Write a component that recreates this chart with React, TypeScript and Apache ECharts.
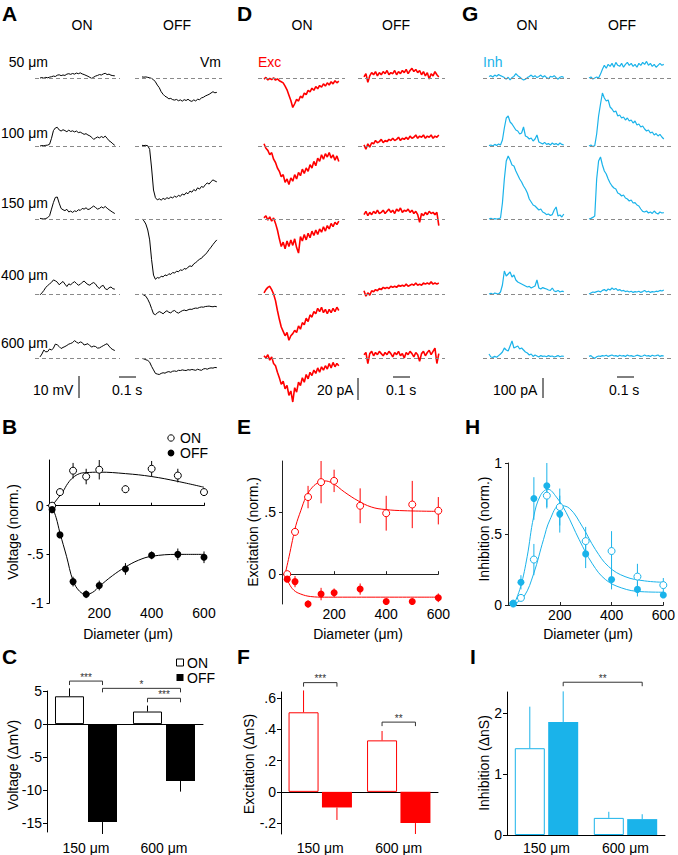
import React, { useEffect, useRef } from "react";
import * as echarts from "echarts";

const FONT = '"Liberation Sans", Arial, Helvetica, sans-serif';
const BLACK = "#000000";
const RED = "#ff0000";
const CYAN = "#1ab3ea";

// ---------------- Panels A / D / G : example traces ----------------
const diameterRows = ["50 μm", "100 μm", "150 μm", "400 μm", "600 μm"];
const traceDuration = 0.44; // s

// Vm (mV) ON / OFF
const vmOn50 = [0,0.2,-0.1,0.3,0.1,0.4,0.6,0.9,0.7,1.3,1.5,1.1,1.4,1.2,1.8,2.0,1.7,2.1,1.8,2.3,2.0,2.4,1.9,1.6,1.2,0.8,0.3,-0.2,0.4,0.9,1.2,1.6,1.4,1.9,2.2,1.6,1.8,1.3,1.1,1.0];
const vmOn100 = [0,0.2,0.1,0.3,0.4,0.8,3.5,7.0,8.2,8.5,7.3,6.8,7.4,7.0,6.5,7.2,6.6,6.9,6.4,6.8,6.1,6.3,5.8,5.3,5.6,5.0,4.6,3.9,3.0,3.6,4.1,3.7,4.3,3.8,4.5,3.5,2.4,1.8,1.0,0.3];
const vmOn150 = [0.3,0.1,0,0.2,0.6,1.5,4.5,7.5,9.8,10.0,7.2,4.8,4.2,3.8,4.4,3.2,3.6,3.0,3.7,3.4,4.2,3.9,4.8,4.5,5.1,4.3,4.6,5.3,5.9,5.2,4.5,4.8,5.5,5.0,5.7,4.9,4.2,3.6,3.0,2.5];
const vmOn400 = [-0.4,0.5,1.6,3.0,3.8,4.6,5.3,6.4,6.0,5.4,4.2,5.0,5.7,4.5,3.4,4.6,4.2,5.0,5.6,4.8,4.0,4.4,5.3,5.9,5.0,4.3,4.0,4.8,5.2,4.5,3.2,2.5,3.6,3.9,2.4,2.0,2.8,3.2,2.4,2.2];
const vmOn600 = [0.5,1.8,3.6,2.8,2.9,4.1,3.6,4.5,6.3,6.0,5.2,4.3,4.8,5.2,5.7,6.3,6.6,7.0,7.9,7.2,6.7,7.3,7.0,5.9,6.2,6.5,5.6,5.0,5.4,5.2,4.5,4.6,5.1,5.6,6.1,6.5,5.4,4.4,3.8,3.4];
const vmOff50 = [0.5,0.4,0.5,0.3,0.1,-0.2,-0.8,-1.8,-3.3,-4.5,-6.4,-7.6,-8.5,-9.0,-9.7,-9.5,-10.1,-10.3,-10.0,-10.6,-10.2,-10.8,-10.1,-10.5,-9.9,-10.6,-10.9,-10.2,-10.7,-9.9,-10.1,-9.3,-9.0,-8.4,-8.0,-7.6,-7.0,-6.4,-6.9,-6.7];
const vmOff100 = [0.3,0.2,0.3,0.1,-1.5,-10,-20,-23.5,-24.5,-24.0,-24.6,-23.8,-24.3,-23.5,-23.9,-23.2,-23.6,-22.8,-23.3,-22.4,-22.9,-21.8,-22.3,-21.2,-21.7,-20.5,-21.0,-19.8,-20.4,-19.0,-19.6,-18.4,-18.8,-17.6,-16.8,-17.3,-16.2,-15.4,-15.9,-16.3];
const vmOff150 = [0,-0.8,-2.3,-5.0,-9.5,-18.5,-25.5,-27.4,-26.6,-26.9,-26.0,-26.3,-25.4,-25.8,-24.9,-25.2,-24.3,-24.6,-23.7,-24.0,-23.1,-23.4,-22.5,-22.8,-21.9,-21.3,-21.6,-20.4,-19.8,-19.1,-18.2,-17.9,-16.8,-16.2,-15.1,-13.9,-12.8,-11.6,-10.5,-9.5];
const vmOff400 = [0,-0.5,-1.0,-2.4,-4.2,-6.6,-9.0,-9.4,-8.6,-8.0,-8.4,-9.0,-8.2,-7.6,-8.3,-8.6,-7.8,-7.5,-8.3,-8.7,-8.1,-7.6,-7.3,-7.6,-7.2,-6.9,-7.0,-6.6,-6.4,-6.5,-6.1,-5.9,-6.0,-5.7,-5.6,-5.5,-5.7,-5.8,-5.6,-5.8];
const vmOff600 = [-0.2,-0.4,-0.8,-1.1,-1.9,-3.8,-5.4,-7.0,-7.3,-7.5,-7.0,-6.7,-6.9,-6.4,-6.2,-6.5,-6.0,-5.9,-6.1,-5.6,-5.7,-5.4,-5.6,-5.7,-5.3,-5.5,-5.2,-5.4,-5.6,-5.1,-5.4,-5.6,-5.0,-4.8,-5.1,-4.7,-4.5,-4.6,-4.3,-4.4];

// Excitatory currents (pA)
const excOn50 = [-1,0.5,-1.8,-0.3,-1.5,0.2,-2,-0.8,-2.5,-3.5,-4.5,-7.5,-11,-16,-21,-27.5,-24,-20,-21.5,-17,-18.5,-14,-15.5,-11.5,-13,-9.5,-11.5,-8,-10,-7,-8.5,-5.5,-7.5,-4.5,-6.5,-3.5,-5.5,-2.5,-4.5,-3];
const excOn100 = [2,-2,-4,-8,-6,-12,-15,-20,-23,-28,-26,-33,-30,-35,-29,-32,-26,-30,-24,-27,-21,-25,-20,-23,-17,-20,-14,-18,-11,-14,-8,-12,-7,-10,-6,-11,-8,-13,-9,-14];
const excOn150 = [1,3,-1,2,-2,1,-4,-10,-18,-25,-21,-27,-20,-25,-19,-24,-18,-26,-31,-16,-20,-14,-19,-13,-17,-11,-15,-10,-14,-9,-12,-7,-11,-6,-9,-4,-7,-3,-5,-2];
const excOn400 = [1,4,6,7,4,0,-6,-15,-23,-30,-34,-38,-35,-42,-38,-36,-33,-35,-29,-32,-26,-28,-22,-25,-19,-21,-16,-18,-13,-16,-12,-17,-14,-18,-14,-17,-13,-16,-12,-15];
const excOn600 = [2,0,3,-2,1,-5,-7,-13,-18,-24,-21,-28,-25,-34,-30,-40,-27,-31,-22,-25,-18,-22,-15,-19,-13,-16,-11,-14,-9,-13,-8,-11,-7,-10,-5,-9,-4,-8,-5,-7];
const excOff50 = [1,4,-4,2,5,3,6,2,5,3,6,4,7,3,5,4,7,3,6,4,7,5,8,4,7,9,6,8,5,7,3,6,2,5,-1,4,2,6,3,1];
const excOff100 = [1,-3,2,-1,3,2,5,3,4,6,3,5,4,6,5,7,5,6,8,5,7,6,8,6,9,7,8,10,7,9,8,10,7,9,8,10,7,9,8,10];
const excOff150 = [4,7,3,6,4,7,5,8,5,6,8,5,7,9,6,8,5,9,7,10,6,8,7,9,6,8,5,7,4,-3,5,3,6,4,7,5,6,4,6,-6];
const excOff400 = [3,-2,1,-1,3,2,4,3,5,4,6,5,6,5,7,6,7,6,8,7,8,7,9,7,8,9,8,10,8,9,8,10,9,10,9,11,9,10,9,10];
const excOff600 = [3,5,-5,4,6,2,5,3,6,4,2,5,3,6,4,1,5,3,6,2,4,0,5,3,6,4,1,5,3,-3,4,6,2,5,7,3,6,9,-5,4];

// Inhibitory currents (pA)
const inhOn50 = [8,12,5,15,9,18,12,8,2,-6,4,-10,2,8,22,12,5,-4,-10,-6,2,8,15,5,12,2,8,15,4,12,2,-4,8,5,12,2,-6,4,8,2];
const inhOn100 = [2,5,0,8,3,10,5,30,90,140,150,120,110,95,80,75,60,65,95,50,45,35,40,25,35,55,20,15,10,18,8,12,5,15,8,12,5,15,8,5];
const inhOn150 = [0,3,-2,2,0,2,5,80,200,290,315,295,270,265,240,220,200,185,165,150,130,100,85,70,65,55,45,50,35,30,22,25,18,22,45,60,15,20,10,25];
const inhOn400 = [0,3,-2,5,2,0,10,45,115,90,100,110,85,95,70,60,55,50,45,40,35,38,30,35,40,70,30,25,32,28,25,20,18,30,15,12,18,10,14,12];
const inhOn600 = [20,5,3,8,4,12,20,30,50,40,35,60,85,50,55,60,45,50,40,30,25,15,20,8,15,10,5,12,8,10,6,12,8,10,5,8,12,6,10,8];
const inhOff50 = [0,5,-5,0,5,0,20,45,65,50,70,60,75,55,80,65,60,75,55,70,80,65,75,60,70,55,75,65,80,70,85,65,75,60,70,55,65,75,65,70];
const inhOff100 = [0,5,-3,2,60,150,210,265,240,225,230,195,185,170,175,150,155,140,145,130,140,125,130,115,125,105,110,95,100,85,75,80,65,70,55,62,50,58,45,35];
const inhOff150 = [0,3,8,15,200,290,310,270,240,225,200,180,165,155,150,130,125,115,120,105,100,90,95,80,82,70,65,50,38,35,40,30,35,28,40,30,25,35,30,32];
const inhOff400 = [0,5,10,8,12,15,10,18,22,15,25,20,30,22,28,18,22,15,18,12,15,10,14,8,12,10,14,8,12,18,10,14,8,12,10,14,12,18,15,20];
const inhOff600 = [8,12,3,-2,6,10,8,12,10,14,8,12,15,10,12,8,14,10,12,8,15,10,12,8,10,14,12,8,10,15,10,12,8,14,10,12,15,8,12,10];

const vmOn = [vmOn50, vmOn100, vmOn150, vmOn400, vmOn600];
const vmOff = [vmOff50, vmOff100, vmOff150, vmOff400, vmOff600];
const excOn = [excOn50, excOn100, excOn150, excOn400, excOn600];
const excOff = [excOff50, excOff100, excOff150, excOff400, excOff600];
const inhOn = [inhOn50, inhOn100, inhOn150, inhOn400, inhOn600];
const inhOff = [inhOff50, inhOff100, inhOff150, inhOff400, inhOff600];

// ---------------- Panels B / E / H : area-response curves ----------------
const diameters = [20, 50, 100, 150, 200, 300, 400, 500, 600];
const voltOn = [0.0, 0.14, 0.36, 0.30, 0.37, 0.17, 0.38, 0.31, 0.14];
const voltOnErr = [0.01, 0.04, 0.08, 0.08, 0.10, 0.04, 0.08, 0.07, 0.04];
const voltOff = [-0.04, -0.30, -0.78, -0.91, -0.82, -0.65, -0.51, -0.50, -0.53];
const voltOffErr = [0.01, 0.03, 0.05, 0.04, 0.05, 0.06, 0.04, 0.06, 0.06];
const voltOnFitD = [20, 40, 60, 80, 100, 125, 150, 200, 300, 400, 500, 600];
const voltOnFit = [0, 0.07, 0.14, 0.23, 0.29, 0.33, 0.34, 0.345, 0.33, 0.30, 0.25, 0.19];
const voltOffFitD = [20, 35, 50, 75, 100, 125, 150, 175, 200, 250, 300, 350, 400, 500, 600];
const voltOffFit = [-0.01, -0.12, -0.28, -0.52, -0.77, -0.88, -0.91, -0.89, -0.83, -0.72, -0.63, -0.56, -0.52, -0.50, -0.50];

const excNormOn = [0.0, 0.34, 0.62, 0.74, 0.75, 0.55, 0.49, 0.56, 0.51];
const excNormOnErr = [0.01, 0.03, 0.09, 0.17, 0.09, 0.14, 0.14, 0.19, 0.11];
const excNormOff = [-0.04, -0.06, -0.24, -0.16, -0.15, -0.12, -0.22, -0.22, -0.19];
const excNormOffErr = [0.01, 0.045, 0.03, 0.05, 0.035, 0.045, 0.02, 0.02, 0.035];
const excOnFitD = [12, 27, 40, 53, 72, 92, 117, 143, 163, 195, 240, 292, 343, 395, 472, 600];
const excOnFit = [0, 0.14, 0.27, 0.39, 0.51, 0.62, 0.70, 0.74, 0.75, 0.73, 0.66, 0.59, 0.54, 0.52, 0.51, 0.505];
const excOffFitD = [12, 27, 46, 72, 110, 163, 600];
const excOffFit = [0, -0.075, -0.13, -0.16, -0.18, -0.185, -0.185];

const inhNormOn = [0.01, 0.05, 0.32, 0.77, 0.69, 0.45, 0.38, 0.20, 0.14];
const inhNormOnErr = [0.005, 0.01, 0.11, 0.08, 0.13, 0.10, 0.14, 0.09, 0.05];
const inhNormOff = [0.01, 0.16, 0.75, 0.84, 0.64, 0.36, 0.18, 0.11, 0.07];
const inhNormOffErr = [0.005, 0.05, 0.15, 0.16, 0.13, 0.10, 0.07, 0.05, 0.02];
const inhOnFitD = [24, 62, 99, 137, 162, 200, 238, 288, 338, 389, 452, 527, 600];
const inhOnFit = [0.007, 0.06, 0.22, 0.46, 0.60, 0.70, 0.68, 0.55, 0.39, 0.27, 0.20, 0.17, 0.16];
const inhOffFitD = [24, 49, 74, 99, 125, 154, 187, 225, 275, 326, 376, 439, 514, 600];
const inhOffFit = [0.007, 0.13, 0.34, 0.62, 0.77, 0.815, 0.76, 0.65, 0.46, 0.29, 0.18, 0.12, 0.094, 0.09];

// ---------------- Panels C / F / I : bar summaries ----------------
const barCategories = ["150 μm", "600 μm"];
const voltBarOn = [4.2, 1.9];
const voltBarOnErr = [1.2, 0.9];
const voltBarOff = [-14.8, -8.6];
const voltBarOffErr = [1.8, 1.6];
const excBarOn = [0.51, 0.33];
const excBarOnErr = [0.14, 0.06];
const excBarOff = [-0.10, -0.20];
const excBarOffErr = [0.08, 0.07];
const inhBarOn = [1.42, 0.28];
const inhBarOnErr = [0.68, 0.10];
const inhBarOff = [1.85, 0.26];
const inhBarOffErr = [0.50, 0.08];

// significance brackets: [catA, sideA(-1 ON / +1 OFF), catB, sideB, y]
const voltBrackets = [[0, -1, 0, 1, 6.5], [0, 1, 1, 1, 5.4], [1, -1, 1, 1, 3.9]];
const voltBracketLabels = ["***", "*", "***"];
const excBrackets = [[0, -1, 0, 1, 0.70], [1, -1, 1, 1, 0.447]];
const excBracketLabels = ["***", "**"];
const inhBrackets = [[0, 1, 1, 1, 2.5]];
const inhBracketLabels = ["**"];

// ---------------- layout ----------------
const traceBaselines = [76, 146, 219, 294, 358];
const pxPerSecond = 170;
const BRACKET = "#333333";

const fmtTick = (v: number) => {
  if (v === 0) return "0";
  return String(v).replace(/^(-?)0\./, "$1.");
};

function txt(text: string, x: number, y: number, opts: any = {}) {
  const align = opts.align || "left";
  return {
    type: "text",
    x,
    y,
    rotation: opts.rotation || 0,
    z: 50,
    silent: true,
    style: {
      text,
      fill: opts.color || "#000",
      font: `${opts.weight || "normal"} ${opts.size || 14}px ${FONT}`,
      align,
      verticalAlign: "middle",
      textAlign: align,
      textVerticalAlign: "middle",
    },
  };
}

function seg(x1: number, y1: number, x2: number, y2: number, color = "#000") {
  return {
    type: "line",
    silent: true,
    z: 50,
    shape: { x1, y1, x2, y2 },
    style: { stroke: color, lineWidth: 1 },
  };
}

function buildOption() {
  const grid: any[] = [];
  const xAxis: any[] = [];
  const yAxis: any[] = [];
  const series: any[] = [];
  const graphic: any[] = [];

  const addGrid = (g: any, x: any, y: any) => {
    grid.push(g);
    const gi = grid.length - 1;
    xAxis.push({ ...x, gridIndex: gi });
    yAxis.push({ ...y, gridIndex: gi });
    return { gi, xi: xAxis.length - 1, yi: yAxis.length - 1 };
  };

  // ---------- traces ----------
  const tracePanels = [
    { on: vmOn, off: vmOff, color: BLACK, width: 1, k: 2.2, onDash: [35, 120], onStart: 40, offDash: [135, 222], offStart: 142 },
    { on: excOn, off: excOff, color: RED, width: 1.6, k: 1.1, onDash: [258, 345], onStart: 264, offDash: [358, 445], offStart: 364 },
    { on: inhOn, off: inhOff, color: CYAN, width: 1.2, k: 0.2, onDash: [483, 570], onStart: 489, offDash: [583, 671], offStart: 589 },
  ];
  const half = 80;
  tracePanels.forEach((p) => {
    [0, 1].forEach((s) => {
      const dash = s === 0 ? p.onDash : p.offDash;
      const start = s === 0 ? p.onStart : p.offStart;
      const rows = s === 0 ? p.on : p.off;
      rows.forEach((vals, r) => {
        const base = traceBaselines[r];
        const { xi, yi } = addGrid(
          { left: dash[0], top: base - half, width: dash[1] - dash[0], height: 2 * half },
          { type: "value", show: false, min: (dash[0] - start) / pxPerSecond, max: (dash[1] - start) / pxPerSecond },
          { type: "value", show: false, min: -half / p.k, max: half / p.k }
        );
        series.push({
          type: "line",
          xAxisIndex: xi,
          yAxisIndex: yi,
          data: vals.map((v, i) => [(i * traceDuration) / (vals.length - 1), v]),
          showSymbol: false,
          symbol: "none",
          clip: false,
          silent: true,
          z: 3,
          lineStyle: { color: p.color, width: p.width },
          itemStyle: { color: p.color },
          markLine: {
            silent: true,
            symbol: "none",
            label: { show: false },
            lineStyle: { color: "#8a8a8a", type: [4, 3], width: 1 },
            data: [{ yAxis: 0 }],
          },
        });
      });
    });
  });

  // ---------- area-response panels ----------
  const axisFont = { fontFamily: FONT, fontSize: 14, color: "#000" };
  const curvePanels = [
    {
      color: BLACK, left: 49.5, width: 154.5, top: 460, height: 143, xmin: 10, ymin: -1, ymax: 0.47,
      yTicks: [0, -0.5, -1], on: voltOn, onErr: voltOnErr, off: voltOff, offErr: voltOffErr,
      onFitD: voltOnFitD, onFit: voltOnFit, offFitD: voltOffFitD, offFit: voltOffFit,
    },
    {
      color: RED, left: 282, width: 156.3, top: 461, height: 143, xmin: 0, ymin: -0.24, ymax: 0.91,
      yTicks: [0.5, 0], on: excNormOn, onErr: excNormOnErr, off: excNormOff, offErr: excNormOffErr,
      onFitD: excOnFitD, onFit: excOnFit, offFitD: excOffFitD, offFit: excOffFit,
    },
    {
      color: CYAN, left: 508, width: 158, top: 463, height: 142, xmin: 0, ymin: 0, ymax: 1,
      yTicks: [1, 0.5, 0], on: inhNormOn, onErr: inhNormOnErr, off: inhNormOff, offErr: inhNormOffErr,
      onFitD: inhOnFitD, onFit: inhOnFit, offFitD: inhOffFitD, offFit: inhOffFit,
    },
  ];
  curvePanels.forEach((c) => {
    const line = { lineStyle: { color: c.color === BLACK ? "#000" : "#222", width: 1 } };
    const { xi, yi } = addGrid(
      { left: c.left, top: c.top, width: c.width, height: c.height },
      {
        type: "value", min: c.xmin, max: 600, splitLine: { show: false },
        axisLine: { show: true, onZero: true, ...line },
        axisTick: { show: true, inside: true, length: 3, customValues: [200, 400, 600], ...line },
        axisLabel: { ...axisFont, margin: 3, customValues: [200, 400, 600], formatter: fmtTick },
      },
      {
        type: "value", min: c.ymin, max: c.ymax, splitLine: { show: false },
        axisLine: { show: true, onZero: false, ...line },
        axisTick: { show: true, length: 3, customValues: c.yTicks, ...line },
        axisLabel: { ...axisFont, margin: 6, customValues: c.yTicks, formatter: fmtTick },
      }
    );
    const errSeries = (vals: number[], errs: number[]) => ({
      type: "custom",
      xAxisIndex: xi,
      yAxisIndex: yi,
      z: 3,
      silent: true,
      clip: false,
      itemStyle: { color: c.color },
      encode: { x: 0, y: 1 },
      data: diameters.map((d, i) => [d, vals[i], errs[i]]),
      renderItem: (_p: any, api: any) => {
        const a = api.coord([api.value(0), api.value(1) - api.value(2)]);
        const b = api.coord([api.value(0), api.value(1) + api.value(2)]);
        return {
          type: "line",
          shape: { x1: a[0], y1: a[1], x2: b[0], y2: b[1] },
          style: { stroke: c.color, lineWidth: 1 },
        };
      },
    });
    const fitSeries = (ds: number[], vs: number[]) => ({
      type: "line",
      xAxisIndex: xi,
      yAxisIndex: yi,
      z: 2,
      silent: true,
      smooth: 0.4,
      showSymbol: false,
      symbol: "none",
      clip: false,
      lineStyle: { color: c.color, width: 1 },
      itemStyle: { color: c.color },
      data: ds.map((d, i) => [d, vs[i]]),
    });
    series.push(fitSeries(c.onFitD, c.onFit));
    series.push(fitSeries(c.offFitD, c.offFit));
    series.push(errSeries(c.on, c.onErr));
    series.push(errSeries(c.off, c.offErr));
    series.push({
      type: "scatter", xAxisIndex: xi, yAxisIndex: yi, z: 4, silent: true, symbol: "circle", symbolSize: 7,
      itemStyle: { color: "#fff", borderColor: c.color, borderWidth: 1, opacity: 1 },
      data: diameters.map((d, i) => [d, c.on[i]]),
    });
    series.push({
      type: "scatter", xAxisIndex: xi, yAxisIndex: yi, z: 4, silent: true, symbol: "circle", symbolSize: 7,
      itemStyle: { color: c.color, opacity: 1 },
      data: diameters.map((d, i) => [d, c.off[i]]),
    });
  });

  // ---------- bar panels ----------
  const barPanels = [
    {
      color: BLACK, left: 47, width: 156, top: 691, height: 141, ymin: -16.3, ymax: 5, yTicks: [5, 0, -5, -10, -15],
      on: voltBarOn, onErr: voltBarOnErr, off: voltBarOff, offErr: voltBarOffErr, barWidth: 29, gapPx: 4,
      brackets: voltBrackets, labels: voltBracketLabels, labelMargin: 9,
    },
    {
      color: RED, left: 281, width: 157, top: 692, height: 142, ymin: -0.27, ymax: 0.64, yTicks: [0.6, 0.4, 0.2, 0, -0.2],
      on: excBarOn, onErr: excBarOnErr, off: excBarOff, offErr: excBarOffErr, barWidth: 30, gapPx: 3.4,
      brackets: excBrackets, labels: excBracketLabels, labelMargin: 7,
    },
    {
      color: CYAN, left: 507, width: 158, top: 692, height: 143, ymin: 0, ymax: 2.34, yTicks: [2, 1, 0],
      on: inhBarOn, onErr: inhBarOnErr, off: inhBarOff, offErr: inhBarOffErr, barWidth: 30, gapPx: 3.4,
      brackets: inhBrackets, labels: inhBracketLabels, labelMargin: 6,
    },
  ];
  barPanels.forEach((b) => {
    const { gi, xi, yi } = addGrid(
      { left: b.left, top: b.top, width: b.width, height: b.height },
      {
        type: "category", data: barCategories, position: "bottom",
        axisLine: { show: false, onZero: false }, axisTick: { show: false },
        axisLabel: { ...axisFont, margin: b.labelMargin },
      },
      {
        type: "value", min: b.ymin, max: b.ymax, splitLine: { show: false },
        axisLine: { show: true, lineStyle: { color: "#000", width: 1 } },
        axisTick: { show: true, length: 4, customValues: b.yTicks, lineStyle: { color: "#000" } },
        axisLabel: { ...axisFont, margin: 5, customValues: b.yTicks, formatter: fmtTick },
      }
    );
    xAxis.push({
      gridIndex: gi, type: "category", data: barCategories, position: "bottom",
      axisLine: { show: true, onZero: true, lineStyle: { color: "#000", width: 1 } },
      axisTick: { show: false }, axisLabel: { show: false },
    });
    const gapPct = `${((b.gapPx / b.barWidth) * 100).toFixed(1)}%`;
    series.push({
      type: "bar", xAxisIndex: xi, yAxisIndex: yi, barWidth: b.barWidth, barGap: gapPct, z: 2, silent: true,
      itemStyle: { color: "#fff", borderColor: b.color, borderWidth: 1 },
      data: b.on,
    });
    series.push({
      type: "bar", xAxisIndex: xi, yAxisIndex: yi, barWidth: b.barWidth, barGap: gapPct, z: 2, silent: true,
      itemStyle: { color: b.color },
      data: b.off,
    });
    const off = (b.barWidth + b.gapPx) / 2;
    const errData: number[][] = [];
    b.on.forEach((v, i) => errData.push([i, v, b.onErr[i], -1]));
    b.off.forEach((v, i) => errData.push([i, v, b.offErr[i], 1]));
    series.push({
      type: "custom", xAxisIndex: xi, yAxisIndex: yi, z: 3, silent: true, clip: false,
      itemStyle: { color: b.color },
      encode: { x: 0, y: 1 },
      data: errData,
      renderItem: (_p: any, api: any) => {
        const v = api.value(1);
        const e = api.value(2);
        const end = v >= 0 ? v + e : v - e;
        const a = api.coord([api.value(0), v]);
        const c2 = api.coord([api.value(0), end]);
        const dx = api.value(3) * off;
        return {
          type: "line",
          shape: { x1: a[0] + dx, y1: a[1], x2: c2[0] + dx, y2: c2[1] },
          style: { stroke: b.color, lineWidth: 1 },
        };
      },
    });
    series.push({
      type: "custom", xAxisIndex: xi, yAxisIndex: yi, z: 5, silent: true, clip: false,
      itemStyle: { color: BRACKET },
      encode: { x: 0, y: 4 },
      data: b.brackets,
      renderItem: (p: any, api: any) => {
        const y = api.value(4);
        const pa = api.coord([api.value(0), y]);
        const pb = api.coord([api.value(2), y]);
        const xa = pa[0] + api.value(1) * off;
        const xb = pb[0] + api.value(3) * off;
        const yy = pa[1];
        return {
          type: "group",
          children: [
            {
              type: "polyline",
              silent: true,
              shape: { points: [[xa, yy + 4], [xa, yy], [xb, yy], [xb, yy + 4]] },
              style: { stroke: BRACKET, fill: "none", lineWidth: 1 },
            },
            {
              type: "text",
              silent: true,
              x: (xa + xb) / 2,
              y: yy - 4,
              style: {
                text: b.labels[p.dataIndex],
                fill: BRACKET,
                textFill: BRACKET,
                fontSize: 10,
                fontFamily: FONT,
                align: "center",
                verticalAlign: "middle",
                opacity: 1,
              },
            },
          ],
        };
      },
    });
  });

  // ---------- annotations ----------
  const letters: [string, number, number][] = [
    ["A", 2, 13], ["D", 237, 13], ["G", 462, 13],
    ["B", 2, 426], ["E", 237, 426], ["H", 465, 426],
    ["C", 2, 656], ["F", 237, 656], ["I", 470, 656],
  ];
  letters.forEach(([t, x, y]) => graphic.push(txt(t, x, y, { size: 21, weight: "bold" })));

  const headers: [string, number][] = [
    ["ON", 82], ["OFF", 177], ["ON", 302], ["OFF", 396], ["ON", 527], ["OFF", 622],
  ];
  headers.forEach(([t, x]) => graphic.push(txt(t, x, 25, { align: "center" })));

  const rowLabelY = [62, 133, 203, 275, 343];
  diameterRows.forEach((t, i) => graphic.push(txt(t, 48, rowLabelY[i], { align: "right" })));
  graphic.push(txt("Vm", 221, 62, { align: "right" }));
  graphic.push(txt("Exc", 258, 62, { color: RED }));
  graphic.push(txt("Inh", 483, 62, { color: CYAN }));

  // scale bars
  const scaleBars = [
    { label: "10 mV", value: 10, k: 2.2, textX: 33, barX: 79, top: 376, timeX: 119, timeTextX: 112 },
    { label: "20 pA", value: 20, k: 1.1, textX: 317, barX: 358, top: 378, timeX: 393, timeTextX: 386 },
    { label: "100 pA", value: 100, k: 0.2, textX: 493, barX: 543, top: 378, timeX: 617, timeTextX: 609 },
  ];
  scaleBars.forEach((s) => {
    graphic.push(txt(s.label, s.textX, 390));
    graphic.push(seg(s.barX, s.top, s.barX, s.top + s.value * s.k));
    graphic.push(seg(s.timeX, 377, s.timeX + 0.1 * pxPerSecond, 377));
    graphic.push(txt("0.1 s", s.timeTextX, 390));
  });

  // axis titles
  graphic.push(txt("Voltage (norm.)", 13, 532, { align: "center", rotation: Math.PI / 2 }));
  graphic.push(txt("Excitation (norm.)", 253, 532, { align: "center", rotation: Math.PI / 2 }));
  graphic.push(txt("Inhibition (norm.)", 484, 529, { align: "center", rotation: Math.PI / 2 }));
  graphic.push(txt("Diameter (μm)", 128, 634, { align: "center" }));
  graphic.push(txt("Diameter (μm)", 358, 634, { align: "center" }));
  graphic.push(txt("Diameter (μm)", 588, 634, { align: "center" }));
  graphic.push(txt("Voltage (ΔmV)", 13, 765, { align: "center", rotation: Math.PI / 2 }));
  graphic.push(txt("Excitation (ΔnS)", 249, 764, { align: "center", rotation: Math.PI / 2 }));
  graphic.push(txt("Inhibition (ΔnS)", 484, 763, { align: "center", rotation: Math.PI / 2 }));

  // legends
  graphic.push({ type: "circle", z: 50, silent: true, shape: { cx: 171, cy: 438, r: 3.2 }, style: { fill: "#fff", stroke: "#000", lineWidth: 1 } });
  graphic.push(txt("ON", 180, 438));
  graphic.push({ type: "circle", z: 50, silent: true, shape: { cx: 171, cy: 453, r: 3.4 }, style: { fill: "#000" } });
  graphic.push(txt("OFF", 180, 453));
  graphic.push({ type: "rect", z: 50, silent: true, shape: { x: 176.5, y: 659, width: 7, height: 7 }, style: { fill: "#fff", stroke: "#000", lineWidth: 1 } });
  graphic.push(txt("ON", 187, 663));
  graphic.push({ type: "rect", z: 50, silent: true, shape: { x: 176.5, y: 674, width: 7, height: 7 }, style: { fill: "#000" } });
  graphic.push(txt("OFF", 187, 678));

  return {
    animation: false,
    backgroundColor: "#fff",
    textStyle: { fontFamily: FONT },
    grid,
    xAxis,
    yAxis,
    series,
    graphic: { elements: graphic },
  };
}

export default function App() {
  const ref = useRef<HTMLDivElement>(null);
  useEffect(() => {
    if (!ref.current) return;
    const chart = echarts.init(ref.current, null, { renderer: "svg" });
    chart.setOption(buildOption() as any);
    return () => chart.dispose();
  }, []);
  return (
    <div
      ref={ref}
      style={{ position: "absolute", left: 0, top: 0, width: 678, height: 855, background: "#fff" }}
    />
  );
}
